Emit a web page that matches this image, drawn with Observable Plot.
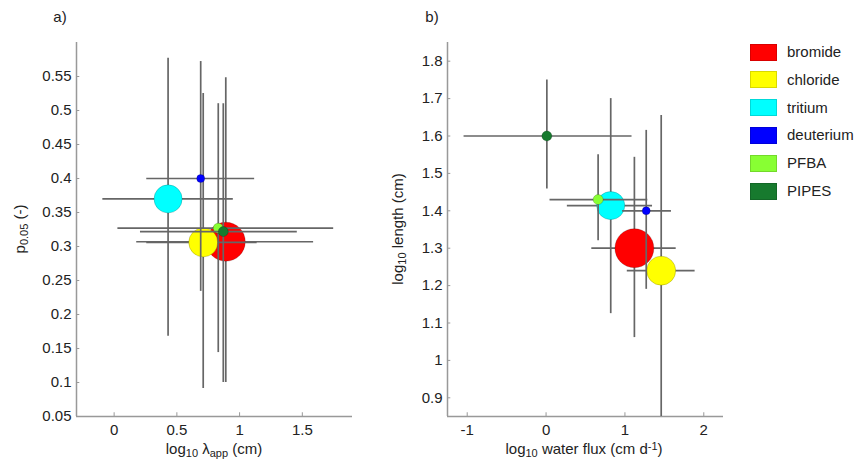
<!DOCTYPE html>
<html><head><meta charset="utf-8">
<script src="https://cdn.jsdelivr.net/npm/d3@7"></script>
<script src="https://cdn.jsdelivr.net/npm/@observablehq/plot@0.6"></script>
<style>
body{margin:0;background:#fff;font-family:"Liberation Sans",Arial,sans-serif;}
#wrap{position:relative;width:862px;height:470px;overflow:hidden;}
#wrap svg{position:absolute;top:0;}
.leg{position:absolute;font-size:15px;color:#222;}
.sw{position:absolute;width:27px;height:17px;box-sizing:border-box;border:1px solid rgba(0,0,0,0.15);}
</style></head><body><div id="wrap"></div>
<script>
// ---- data ----
const tracers = ["bromide","chloride","tritium","deuterium","PFBA","PIPES"];
const colors  = ["#ff0000","#ffff00","#00ffff","#0000ff","#88ff33","#177a2e"];
// relative marker weight (symbol area)
const recovery = [1.0, 0.553, 0.52, 0.042, 0.066, 0.066];

// panel a: log10 lambda_app (cm) vs p0.05
const lambda   = [0.89, 0.71, 0.43, 0.69, 0.83, 0.87];
const lambdaLo = [0.18, 0.26, -0.09, 0.26, 0.03, 0.21];
const lambdaHi = [1.59, 1.14, 0.95, 1.12, 1.75, 1.46];
const p05      = [0.307, 0.306, 0.370, 0.400, 0.327, 0.322];
const p05Lo    = [0.100, 0.091, 0.168, 0.234, 0.144, 0.100];
const p05Hi    = [0.548, 0.525, 0.577, 0.572, 0.510, 0.510];
const xTicksA = [0, 0.5, 1, 1.5];
const yTicksA = [0.05,0.1,0.15,0.2,0.25,0.3,0.35,0.4,0.45,0.5,0.55];

// panel b: log10 water flux (cm/d) vs log10 length (cm)
const flux   = [1.12, 1.46, 0.82, 1.27, 0.66, 0.01];
const fluxLo = [0.58, 1.03, 0.27, 0.97, 0.05, -1.04];
const fluxHi = [1.65, 1.89, 1.35, 1.59, 1.29, 1.09];
const len    = [1.300, 1.240, 1.414, 1.400, 1.430, 1.600];
const lenLo  = [1.061, 0.800, 1.125, 1.190, 1.320, 1.458];
const lenHi  = [1.543, 1.655, 1.700, 1.615, 1.550, 1.750];
const xTicksB = [-1, 0, 1, 2];
const yTicksB = [0.9,1,1.1,1.2,1.3,1.4,1.5,1.6,1.7,1.8];

const wrap = document.getElementById("wrap");
const FONT = '"Liberation Sans", Arial, sans-serif';

function panel(o) {
  const data = tracers.map((t,i)=>({t, x:o.xs[i], x1:o.xLo[i], x2:o.xHi[i], y:o.ys[i], y1:o.yLo[i], y2:o.yHi[i], w:recovery[i]}));
  const y0 = o.yDomain[0], x0 = o.xDomain[0];
  const ty = (o.yDomain[1]-o.yDomain[0]) * 0.01;
  const tx = (o.xDomain[1]-o.xDomain[0]) * 0.012;
  const marks = [
    Plot.ruleX([x0], {stroke:"#999", strokeWidth:1.5}),
    Plot.ruleY([y0], {stroke:"#999", strokeWidth:1.5}),
    Plot.ruleX(o.xTicks, {x:d=>d, y1:y0, y2:y0+ty, stroke:"#999", strokeWidth:1}),
    Plot.ruleY(o.yTicks, {y:d=>d, x1:x0, x2:x0+tx, stroke:"#999", strokeWidth:1}),
    Plot.axisX({ticks:o.xTicks, tickSize:0, tickPadding:8, tickFormat:d=>String(d), label:null, fill:"#222"}),
    Plot.axisY({ticks:o.yTicks, tickSize:0, tickPadding:5, tickFormat:d=>String(+d.toFixed(2)), label:null, fill:"#222"}),
  ];
  data.forEach(d => {
    marks.push(Plot.ruleX([d], {x:"x", y1:"y1", y2:"y2", stroke:"#666", strokeWidth:1.7, clip:true}));
    marks.push(Plot.ruleY([d], {y:"y", x1:"x1", x2:"x2", stroke:"#666", strokeWidth:1.7, clip:true}));
    marks.push(Plot.dot([d], {x:"x", y:"y", r:"w", fill:"t", stroke:"#000", strokeOpacity:0.18, strokeWidth:1}));
  });
  const svg = Plot.plot({
    width:o.width, height:470,
    marginLeft:o.ml, marginRight:o.mr, marginTop:42, marginBottom:54,
    x:{domain:o.xDomain}, y:{domain:o.yDomain},
    r:{type:"sqrt", domain:[0,1], range:[0,19.5]},
    color:{domain:tracers, range:colors},
    style:{fontSize:"15px", fontFamily:FONT, background:"transparent", overflow:"visible"},
    marks
  });
  svg.style.left = o.left + "px";
  wrap.appendChild(svg);
  return d3.select(svg);
}

const A = panel({xs:lambda, xLo:lambdaLo, xHi:lambdaHi, ys:p05, yLo:p05Lo, yHi:p05Hi,
  xDomain:[-0.3,1.9], yDomain:[0.05,0.6], xTicks:xTicksA, yTicks:yTicksA,
  width:370, ml:76, mr:18, left:0});
const B = panel({xs:flux, xLo:fluxLo, xHi:fluxHi, ys:len, yLo:lenLo, yHi:lenHi,
  xDomain:[-1.25,2.25], yDomain:[0.85,1.85], xTicks:xTicksB, yTicks:yTicksB,
  width:370, ml:77, mr:17, left:370});

function label(sel, x, y, parts, rotate) {
  const t = sel.append("text").attr("font-family", FONT).attr("font-size", 15).attr("fill", "#222")
    .attr("text-anchor", "middle")
    .attr("transform", `translate(${x},${y})` + (rotate ? " rotate(-90)" : ""));
  parts.forEach(([s, kind]) => {
    const ts = t.append("tspan").text(s);
    if (kind === "sub") ts.attr("font-size", 11).attr("baseline-shift", "-30%");
    if (kind === "sup") ts.attr("font-size", 11).attr("baseline-shift", "40%");
  });
}
label(A, 60, 22, [["a)"]]);
label(B, 62, 22, [["b)"]]);
label(A, 214, 454, [["log"],["10","sub"],[" λ"],["app","sub"],[" (cm)"]]);
label(B, 214, 454, [["log"],["10","sub"],[" water flux (cm d"],["-1","sup"],[")"]]);
label(A, 25, 229, [["p"],["0.05","sub"],[" (-)"]], true);
label(B, 33, 229, [["log"],["10","sub"],[" length (cm)"]], true);

// legend
tracers.forEach((t,i) => {
  const cy = 52 + i*27.8;
  const sw = document.createElement("div");
  sw.className = "sw"; sw.style.left = "750px"; sw.style.top = (cy-8.5)+"px"; sw.style.background = colors[i];
  wrap.appendChild(sw);
  const tx = document.createElement("div");
  tx.className = "leg"; tx.textContent = t; tx.style.left = "787px"; tx.style.top = (cy-9)+"px";
  wrap.appendChild(tx);
});
</script></body></html>
